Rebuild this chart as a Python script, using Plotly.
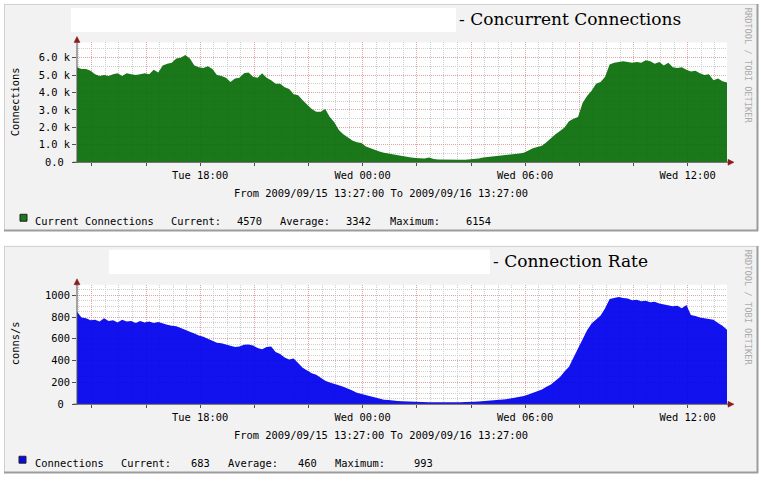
import plotly.graph_objects as go
import pandas as pd

W, H = 761, 483

# ---------------- data ----------------
start_time = "2009-09-15 13:27:00"
end_time = "2009-09-16 13:27:00"
step_minutes = 10

concurrent = [
    5450, 5350, 5350, 5250, 5050, 4950, 5000, 4950, 5050, 5100,
    4950, 5100, 5050, 5000, 5050, 5100, 5050, 5300, 5150, 5550,
    5650, 5700, 5950, 6000, 6150, 5950, 5550, 5450, 5400, 5500,
    5350, 5000, 4950, 4850, 4600, 4800, 4850, 5100, 5150, 4900,
    4850, 5100, 4850, 4700, 4500, 4500, 4300, 4200, 3900, 3850,
    3550, 3300, 3050, 2900, 2900, 3050, 2600, 2300, 1850, 1600,
    1450, 1250, 1150, 1100, 900, 800, 720, 620, 550, 500,
    450, 380, 330, 300, 270, 250, 230, 220, 280, 180,
    160, 150, 150, 140, 150, 140, 150, 160, 170, 220,
    270, 300, 320, 350, 360, 380, 420, 450, 500, 550,
    680, 800, 880, 950, 1150, 1400, 1600, 1800, 2000, 2350,
    2500, 2600, 3400, 3800, 4100, 4500, 4600, 4900, 5600, 5700,
    5750, 5800, 5750, 5700, 5750, 5700, 5850, 5800, 5650, 5750,
    5550, 5700, 5450, 5400, 5450, 5300, 5200, 5250, 5100, 5000,
    5050, 4700, 4800, 4650, 4570,
]

rate = [
    850, 795, 790, 770, 775, 760, 790, 765, 770, 750,
    775, 760, 765, 745, 765, 750, 760, 745, 755, 740,
    730, 720, 715, 700, 680, 665, 650, 630, 620, 600,
    580, 565, 560, 550, 535, 525, 530, 545, 548, 540,
    515, 505, 525, 530, 480, 460, 430, 410, 420, 375,
    335, 310, 285, 270, 245, 215, 200, 190, 175, 160,
    145, 125, 105, 95, 80, 72, 60, 50, 42, 38,
    32, 30, 28, 25, 22, 20, 18, 18, 17, 18,
    17, 16, 17, 18, 17, 18, 20, 19, 22, 24,
    27, 30, 33, 36, 40, 46, 52, 60, 65, 75,
    90, 105, 115, 135, 160, 180, 215, 250, 300, 345,
    430, 510, 600, 680, 740, 780, 815, 880, 965, 975,
    985, 975, 970, 955, 960, 945, 950, 935, 940, 925,
    915, 910, 900, 905, 880, 910, 820, 810, 795, 790,
    780, 775, 745, 720, 683,
]

x_tickvals = [
    "2009-09-15 14:00", "2009-09-15 16:00", "2009-09-15 18:00",
    "2009-09-15 20:00", "2009-09-15 22:00", "2009-09-16 00:00",
    "2009-09-16 02:00", "2009-09-16 04:00", "2009-09-16 06:00",
    "2009-09-16 08:00", "2009-09-16 10:00", "2009-09-16 12:00",
]
x_ticktext = ["", "", "Tue 18:00", "", "", "Wed 00:00",
              "", "", "Wed 06:00", "", "", "Wed 12:00"]

y1_tickvals = [0, 1000, 2000, 3000, 4000, 5000, 6000]
y1_ticktext = ["0.0\u00a0", "1.0 k", "2.0 k", "3.0 k", "4.0 k", "5.0 k", "6.0 k"]
y2_tickvals = [0, 200, 400, 600, 800, 1000]
y2_ticktext = ["0\u00a0", "200", "400", "600", "800", "1000"]

legend1 = [("Current Connections", 33), ("Current:", 169), ("4570", 235),
           ("Average:", 278), ("3342", 344), ("Maximum:", 388), ("6154", 464)]
legend2 = [("Connections", 33), ("Current:", 119), ("683", 189),
           ("Average:", 226), ("460", 296), ("Maximum:", 333), ("993", 412)]

# ---------------- helpers ----------------
def px(x):
    return x / W


def py(y):
    return 1 - y / H


start = pd.Timestamp(start_time)
times1 = [start + pd.Timedelta(minutes=step_minutes * i) for i in range(len(concurrent))]
times2 = [start + pd.Timedelta(minutes=step_minutes * i) for i in range(len(rate))]

MONO = "DejaVu Sans Mono"
SERIF = "DejaVu Serif"
FS = 10.4
BG = "#f2f2f2"
MGRID = "#e0a4a4"
GRID = "#cfcfcf"
AXIS = "#505050"
ARROW = "#8b1c1c"
DASH = "1px,1px"

PLOT_L, PLOT_R = 77, 727
P1_TOP, P1_BOT = 43, 164.3
P2_TOP, P2_BOT = 288.3, 409.3

fig = go.Figure()
fig.add_trace(go.Scatter(
    x=times1, y=concurrent, mode="lines", fill="tozeroy",
    line=dict(width=0, color="rgba(7,108,7,0.92)"),
    fillcolor="rgba(7,108,7,0.92)", xaxis="x", yaxis="y",
    showlegend=False, hoverinfo="skip"))
fig.add_trace(go.Scatter(
    x=times2, y=rate, mode="lines", fill="tozeroy",
    line=dict(width=0, color="rgba(0,0,238,0.93)"),
    fillcolor="rgba(0,0,238,0.93)", xaxis="x2", yaxis="y2",
    showlegend=False, hoverinfo="skip"))

xcommon = dict(
    type="date", range=[start_time, end_time],
    tickmode="array", tickvals=x_tickvals, ticktext=x_ticktext,
    ticks="outside", ticklen=3, tickcolor=AXIS, tickwidth=1,
    showgrid=True, gridcolor=MGRID, griddash=DASH, gridwidth=1,
    minor=dict(dtick=1800000, tick0="2009-09-15 00:00:00", showgrid=True,
               gridcolor=GRID, griddash=DASH, gridwidth=1, ticks=""),
    showline=False, zeroline=False, fixedrange=True,
    tickfont=dict(family=MONO, size=FS, color="black"),
    domain=[px(PLOT_L), px(PLOT_R)],
)
ycommon = dict(
    tickmode="array", ticks="outside", ticklen=4, tickcolor=AXIS, tickwidth=1,
    showgrid=True, gridcolor=MGRID, griddash=DASH, gridwidth=1,
    showline=False, zeroline=False, fixedrange=True,
    tickfont=dict(family=MONO, size=FS, color="black"),
)

fig.update_layout(
    width=W, height=H, margin=dict(l=0, r=0, t=0, b=0),
    paper_bgcolor="white", plot_bgcolor="rgba(0,0,0,0)",
    showlegend=False,
    xaxis=dict(anchor="y", **xcommon),
    xaxis2=dict(anchor="y2", **xcommon),
    yaxis=dict(anchor="x", domain=[py(P1_BOT), py(P1_TOP)], range=[0, 6870],
               tickvals=y1_tickvals, ticktext=y1_ticktext,
               minor=dict(dtick=500, tick0=0, showgrid=True, gridcolor=GRID,
                          griddash=DASH, gridwidth=1, ticks=""),
               **ycommon),
    yaxis2=dict(anchor="x2", domain=[py(P2_BOT), py(P2_TOP)], range=[0, 1097],
                tickvals=y2_tickvals, ticktext=y2_ticktext,
                minor=dict(dtick=50, tick0=0, showgrid=True, gridcolor=GRID,
                           griddash=DASH, gridwidth=1, ticks=""),
                **ycommon),
)

shapes = []
annotations = []


def rect(x0, y0, x1, y1, fill, line=None, lw=0, layer="below"):
    shapes.append(dict(type="rect", xref="paper", yref="paper",
                       x0=px(x0), x1=px(x1), y0=py(y1), y1=py(y0),
                       fillcolor=fill, layer=layer,
                       line=dict(width=lw, color=line or fill)))


def hline(x0, x1, y, color, w=1, layer="above"):
    shapes.append(dict(type="line", xref="paper", yref="paper",
                       x0=px(x0), x1=px(x1), y0=py(y), y1=py(y),
                       line=dict(color=color, width=w), layer=layer))


def vline(x, y0, y1, color, w=1, layer="above"):
    shapes.append(dict(type="line", xref="paper", yref="paper",
                       x0=px(x), x1=px(x), y0=py(y0), y1=py(y1),
                       line=dict(color=color, width=w), layer=layer))


def tri(points, color):
    path = "M " + " L ".join(f"{px(a):.5f},{py(b):.5f}" for a, b in points) + " Z"
    shapes.append(dict(type="path", xref="paper", yref="paper", path=path,
                       fillcolor=color, line=dict(color=color, width=0.5),
                       layer="above"))


def text(x, y, s, size=FS, family=MONO, color="black", xanchor="left",
         angle=0, bold=False):
    annotations.append(dict(x=px(x), y=py(y), xref="paper", yref="paper",
                            text=f"<b>{s}</b>" if bold else s,
                            showarrow=False, xanchor=xanchor,
                            yanchor="middle", textangle=angle,
                            font=dict(family=family, size=size, color=color)))


panels = [
    dict(top=4, bot=234, box=(71, 456), title="- Concurrent Connections",
         ptop=P1_TOP, pbot=P1_BOT, ylabel="Connections", ylab_y=103,
         legend=legend1, color="#1b7a1b", square=(20, 217)),
    dict(top=249, bot=479, box=(109, 490), title="- Connection Rate",
         ptop=P2_TOP, pbot=P2_BOT, ylabel="conns/s", ylab_y=348,
         legend=legend2, color="#0a0ae6", square=(19, 462)),
]

for p in panels:
    t, b = p["top"], p["bot"]
    rect(4, t, 758, b, BG)
    hline(4, 758, t + 0.5, "#cfcfcf", 1, "below")
    vline(4.5, t, b, "#cfcfcf", 1, "below")
    hline(4, 758, b - 0.5, "#9c9c9c", 2, "below")
    vline(757.5, t, b, "#9c9c9c", 2, "below")
    # white title box
    rect(p["box"][0], t + 4, p["box"][1], t + 28.5, "white")
    # white canvas
    rect(PLOT_L, p["ptop"], PLOT_R, p["pbot"], "white")
    # axes + arrows
    hline(73, 729, p["pbot"], AXIS)
    vline(PLOT_L, p["pbot"] + 0.5, p["ptop"] - 4, AXIS)
    ab = p["pbot"]
    tri([(728, ab - 3), (734, ab), (728, ab + 3)], ARROW)
    at = p["ptop"] - 6
    tri([(PLOT_L - 3, at + 6), (PLOT_L, at), (PLOT_L + 3, at + 6)], ARROW)
    # title
    text(p["box"][1] + 1, t + 15.6, p["title"], size=17, family=SERIF)
    # watermark
    text(747.5, t + 62, "RRDTOOL / TOBI OETIKER", size=8.7, color="#ababab",
         xanchor="center", angle=90)
    # y label
    text(14.5, p["ylab_y"], p["ylabel"], angle=-90, xanchor="center")
    # from/to line
    text(381, p["pbot"] + 31.5,
         "From 2009/09/15 13:27:00 To 2009/09/16 13:27:00", xanchor="center")
    # legend
    sx, sy = p["square"]
    rect(sx, sy, sx + 7, sy + 7, p["color"], line="#202020", lw=1, layer="above")
    for s, x in p["legend"]:
        text(x, sy + 6.5, s)

fig.update_layout(shapes=shapes, annotations=annotations)
fig.write_html("out.html")
